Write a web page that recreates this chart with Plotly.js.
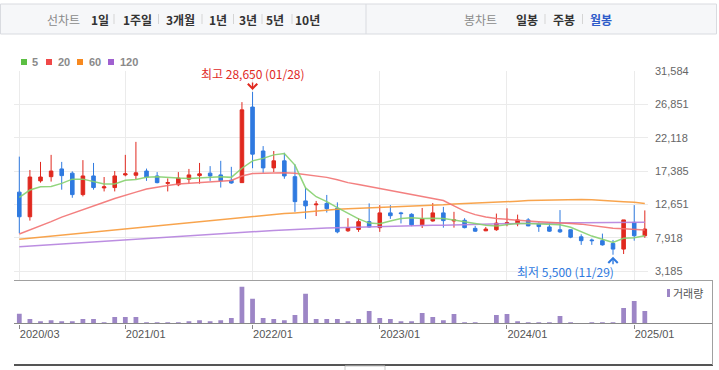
<!DOCTYPE html>
<html><head><meta charset="utf-8">
<script src="https://cdn.plot.ly/plotly-3.0.1.min.js"></script>
<style>html,body{margin:0;padding:0;background:#fff;}#chart{width:719px;height:370px;}</style>
</head><body><div id="chart"></div>
<script>
const months = ["2020/03","2020/04","2020/05","2020/06","2020/07","2020/08","2020/09","2020/10","2020/11","2020/12",
"2021/01","2021/02","2021/03","2021/04","2021/05","2021/06","2021/07","2021/08","2021/09","2021/10","2021/11","2021/12",
"2022/01","2022/02","2022/03","2022/04","2022/05","2022/06","2022/07","2022/08","2022/09","2022/10","2022/11","2022/12",
"2023/01","2023/02","2023/03","2023/04","2023/05","2023/06","2023/07","2023/08","2023/09","2023/10","2023/11","2023/12",
"2024/01","2024/02","2024/03","2024/04","2024/05","2024/06","2024/07","2024/08","2024/09","2024/10","2024/11","2024/12",
"2025/01","2025/02"];
const open  = [14400,10900,16000,16600,17700,17100,14050,16700,15000,15050,16850,16800,17400,16700,15650,15450,16250,16750,17100,16850,16100,15750,26500,20250,17850,18850,16600,13150,12600,12800,12100,8900,9100,10200,9350,11450,11450,11250,9750,10300,11450,10300,10400,9250,8900,9050,9900,9900,10450,9850,9450,9050,9050,8050,7600,7500,7100,6300,10100,8200];
const high  = [19450,17550,18700,19700,18700,17350,18950,18550,16550,17400,19700,21550,17750,17250,16350,17250,17700,18550,18100,18850,18000,27200,28650,20950,20250,20000,18350,15050,13150,14000,12950,10700,10700,12800,12550,12550,11600,11400,12150,12850,12300,11600,10700,9600,9450,11350,12100,11200,10700,10100,10050,11850,9100,8400,7800,8500,7600,10450,12550,11800];
const low   = [8550,10350,15750,15900,14750,13600,13800,14750,14500,14500,16650,16250,16000,15650,14500,15250,15600,15600,16000,15050,15600,15700,17800,17150,17250,16300,11600,10600,11000,11500,8550,8750,8750,9350,8750,10600,9950,9550,9300,10200,9350,9350,9250,8750,8850,8900,9550,9550,9550,8750,8750,8600,7850,6900,6900,6800,5500,5600,7500,7900];
const close = [10900,16550,16550,17400,16750,14050,16700,15050,15150,16700,17000,17150,16550,15750,15750,16400,16850,17000,16700,16000,15700,26100,19800,17850,18850,16700,13050,12450,12700,12050,8750,9350,10200,9450,11450,11050,11350,9750,10600,11450,10350,10450,9350,8850,9150,10000,10050,10450,9600,9500,8850,8750,8000,7500,7500,6900,6300,10450,8200,9150];
const volume = [29,13,7,10,7,7,13,13,4,19,19,19,4,4,4,4,7,10,7,10,16,109,73,16,13,10,25,88,13,13,13,7,13,37,16,13,7,7,31,19,10,28,4,4,1,25,28,7,4,4,4,22,4,1,4,4,4,46,67,37];
const ma5   = [13650,14700,15150,15200,15650,16250,16250,15950,15550,15550,16100,16200,16500,16600,16450,16400,16350,16450,16500,16600,16500,17800,18850,19200,19700,19900,18250,15000,13750,13050,12200,11350,10600,10000,9900,10300,10650,10750,10650,10700,10650,10450,10200,9850,9700,9600,9750,9950,9950,9900,9850,9750,9400,8750,8150,7700,7250,7850,7900,8200];
const ma20  = [8450,9000,9600,10200,10850,11350,11850,12450,12950,13500,14000,14400,14850,15150,15350,15550,15650,15750,15850,15950,16050,16700,17050,17100,17150,17150,17100,16900,16700,16500,16150,15750,15500,15200,14900,14650,14350,14050,13800,13500,13200,12450,11700,11200,10850,10650,10500,10350,10300,10200,10150,10100,9950,9850,9650,9450,9250,9200,9150,9000];
const ma60  = [7700,7850,8000,8150,8300,8450,8600,8750,8900,9050,9200,9350,9500,9650,9800,9950,10100,10200,10400,10500,10700,10800,10950,11100,11200,11350,11450,11600,11700,11850,11950,12050,12100,12150,12250,12300,12350,12400,12500,12550,12600,12700,12750,12800,12900,12950,13000,13100,13200,13250,13300,13350,13350,13350,13300,13250,13150,13050,12950,12800];
const ma120 = [6650,6750,6850,6950,7050,7150,7200,7300,7400,7500,7600,7700,7800,7900,8000,8100,8200,8300,8400,8500,8600,8700,8750,8850,8950,9000,9100,9150,9250,9300,9350,9400,9450,9500,9500,9550,9600,9600,9650,9700,9700,9750,9800,9850,9850,9900,9900,9950,9950,10000,10000,10000,10050,10050,10050,10100,10100,10100,10100,10100];
const priceTicks = [3185,7918,12651,17385,22118,26851,31584];
const priceTickText = ["3,185","7,918","12,651","17,385","22,118","26,851","31,584"];
const dateTicks = ["2020/03","2021/01","2022/01","2023/01","2024/01","2025/01"];
const maNames = ["5","20","60","120"];
const maColors = ["#5cbf43","#f04848","#f7891f","#a060d0"];
const maLineColors = ["#86d06f","#f27272","#f79a3a","#b582de"];
const highLabel = "최고 28,650 (01/28)";
const lowLabel = "최저 5,500 (11/29)";
const topLeft = ["선차트","1일","1주일","3개월","1년","3년","5년","10년"];
const topRight = ["봉차트","일봉","주봉","월봉"];

const W = 719, H = 370;
const px = x => x / W, py = y => 1 - y / H;
const UP = "#e0291f", DOWN = "#2f7ae0";

const traces = [
  {type:"candlestick", x: months, open, high, low, close, xaxis:"x", yaxis:"y",
   increasing:{line:{color:UP,width:1}, fillcolor:UP},
   decreasing:{line:{color:DOWN,width:1}, fillcolor:DOWN},
   whiskerwidth:0, hoverinfo:"skip", showlegend:false},
];
[ma120, ma60, ma20, ma5].forEach((arr, k) => {
  const idx = 3 - k;
  traces.push({type:"scatter", mode:"lines", x: months, y: arr, xaxis:"x", yaxis:"y",
    line:{color: maLineColors[idx], width: 1.5}, opacity: 0.9, hoverinfo:"skip", showlegend:false});
});
traces.push({type:"bar", x: months, y: volume, xaxis:"x2", yaxis:"y2",
  marker:{color:"#9d86c6"}, width:0.45, hoverinfo:"skip", showlegend:false});

const font = "Liberation Sans, Arial, sans-serif";
const kfont = "Noto Sans CJK KR, sans-serif";

const shapes = [
  // top bar
  {type:"rect", xref:"paper", yref:"paper", x0:px(0.5), x1:px(716.5), y0:py(4), y1:py(34), fillcolor:"#f6f7f9", line:{color:"#d9dbe0", width:1}, layer:"below"},
  {type:"line", xref:"paper", yref:"paper", x0:px(366), x1:px(366), y0:py(4), y1:py(34), line:{color:"#d9dbe0", width:1}},
  // panel separators
  {type:"line", xref:"paper", yref:"paper", x0:px(14), x1:px(713), y0:py(280.5), y1:py(280.5), line:{color:"#a0a0a0", width:1}},
  {type:"line", xref:"paper", yref:"paper", x0:px(14), x1:px(713), y0:py(323.5), y1:py(323.5), line:{color:"#888", width:1}},
  {type:"line", xref:"paper", yref:"paper", x0:px(14), x1:px(713), y0:py(365), y1:py(365), line:{color:"#555", width:2}},
  {type:"line", xref:"paper", yref:"paper", x0:px(712.5), x1:px(712.5), y0:py(280.5), y1:py(365), line:{color:"#a0a0a0", width:1}},
  // small scroll tab under the chart
  {type:"rect", xref:"paper", yref:"paper", x0:px(345), x1:px(385), y0:py(366), y1:py(371), fillcolor:"#fff", line:{color:"#c8c8c8", width:1}},
  // volume legend marker
  {type:"rect", xref:"paper", yref:"paper", x0:px(667), x1:px(670), y0:py(289), y1:py(297), fillcolor:"#9d86c6", line:{width:0}},
];
const legX = [21, 46, 77, 108];
legX.forEach((x, i) => shapes.push({type:"rect", xref:"paper", yref:"paper", x0:px(x), x1:px(x+6), y0:py(59), y1:py(65), fillcolor: maColors[i], line:{width:0}}));

const annotations = [];
const legTX = [30, 55.5, 86.5, 117.5];
maNames.forEach((n, i) => annotations.push({xref:"paper", yref:"paper", x:px(legTX[i]), y:py(62), xanchor:"left", yanchor:"middle", text:"<b>"+n+"</b>", showarrow:false, font:{family:font, size:11, color:"#8a8a8a"}}));

const tlX = [63, 99.5, 137, 180.5, 218, 248, 275, 307.5];
topLeft.forEach((t, i) => annotations.push({xref:"paper", yref:"paper", x:px(tlX[i]), y:py(19), xanchor:"center", yanchor:"middle", text: i===0 ? t : "<b>"+t+"</b>", showarrow:false, font:{family:kfont, size:12, color: i===0 ? "#8a8a8a" : "#333"}}));
const trX = [480, 526.5, 563.5, 600.5];
topRight.forEach((t, i) => annotations.push({xref:"paper", yref:"paper", x:px(trX[i]), y:py(19), xanchor:"center", yanchor:"middle", text: i===0 ? t : "<b>"+t+"</b>", showarrow:false, font:{family:kfont, size:12, color: i===0 ? "#8a8a8a" : (i===3 ? "#2e5bc9" : "#333")}}));
const sepX = [114, 158.5, 202, 233.5, 262, 292, 545, 582.5];
sepX.forEach(x => shapes.push({type:"line", xref:"paper", yref:"paper", x0:px(x), x1:px(x), y0:py(14), y1:py(24), line:{color:"#d5d5d5", width:1}}));

// high / low markers anchored to the data
const hiIdx = high.indexOf(Math.max(...high));
const loIdx = low.indexOf(Math.min(...low));
annotations.push({xref:"x", yref:"y", x: months[hiIdx], y: high[hiIdx], text:"", showarrow:true, ax:0, ay:-11, axref:"pixel", ayref:"pixel", standoff:2, arrowhead:4, arrowsize:1.3, arrowwidth:1.4, arrowcolor:UP});
annotations.push({xref:"x", yref:"y", x: months[hiIdx], y: high[hiIdx], yanchor:"middle", yshift:18, text: highLabel, showarrow:false, font:{family:kfont, size:12, color:UP}});
annotations.push({xref:"x", yref:"y", x: months[loIdx], y: low[loIdx], text:"", showarrow:true, ax:0, ay:11, standoff:2, arrowhead:4, arrowsize:1.3, arrowwidth:1.4, arrowcolor:DOWN});
annotations.push({xref:"x", yref:"y", x: months[loIdx], y: low[loIdx], xanchor:"right", xshift:3, yanchor:"middle", yshift:-17, text: lowLabel, showarrow:false, font:{family:kfont, size:12, color:DOWN}});
annotations.push({xref:"paper", yref:"paper", x:px(671), y:py(293), xanchor:"left", yanchor:"middle", text:"거래량", showarrow:false, font:{family:kfont, size:11, color:"#555"}});

const layout = {
  width: W, height: H, margin:{l:0, r:0, t:0, b:0},
  paper_bgcolor:"#fff", plot_bgcolor:"#fff", showlegend:false, boxgap:0.52,
  xaxis:{domain:[px(14), px(648)], type:"category", range:[-0.5, 59.3], anchor:"y",
    tickmode:"array", tickvals: dateTicks, showticklabels:false, ticks:"",
    showgrid:true, gridcolor:"#ebebeb", gridwidth:1, zeroline:false, showline:false,
    rangeslider:{visible:false}, fixedrange:true},
  yaxis:{domain:[py(281), py(71.3)], range:[1763, 31584], side:"right", anchor:"x",
    tickmode:"array", tickvals: priceTicks, ticktext: priceTickText, ticks:"",
    showgrid:true, gridcolor:"#ebebeb", gridwidth:1, zeroline:false, showline:false,
    tickfont:{family:font, size:11, color:"#666"}, ticklabelstandoff:6, fixedrange:true},
  xaxis2:{domain:[px(14), px(648)], type:"category", range:[-0.5, 59.3], anchor:"y2",
    tickmode:"array", tickvals: dateTicks, ticktext: dateTicks, ticks:"outside", ticklen:4, tickcolor:"#888",
    ticklabelposition:"outside right", showgrid:false, zeroline:false, showline:false,
    tickfont:{family:font, size:11, color:"#555"}, fixedrange:true},
  yaxis2:{domain:[py(323.5), py(283)], range:[0, 120], anchor:"x2", showticklabels:false,
    showgrid:false, zeroline:false, showline:false, fixedrange:true},
  shapes, annotations
};
Plotly.newPlot("chart", traces, layout, {displayModeBar:false, staticPlot:true});
</script></body></html>
